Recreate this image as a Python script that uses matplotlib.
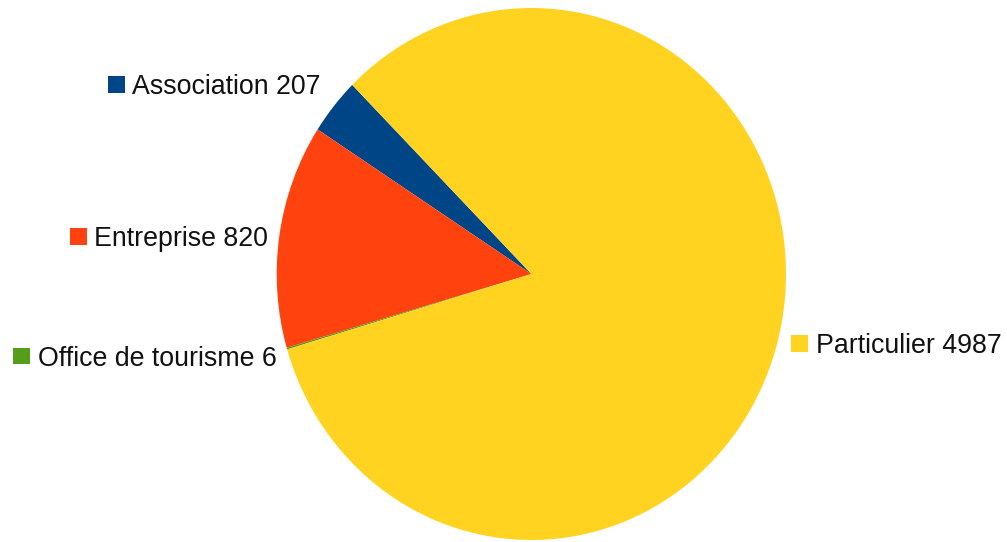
import matplotlib.pyplot as plt
from matplotlib.patches import Rectangle

# data
categories = ['Association', 'Entreprise', 'Office de tourisme', 'Particulier']
values = [207, 820, 6, 4987]
colors = ['#004586', '#ff420e', '#579d1c', '#ffd320']

# label placement (pixel coords: marker left edge, marker centre y)
label_pos = [(108, 84.5), (70, 236.5), (13, 356), (791, 343.5)]

W, H = 1007, 542
fig = plt.figure(figsize=(W / 100, H / 100), dpi=100)

# pie is slightly taller than wide in the reference
left, right, top, bottom = 276.7, 786.0, 8.0, 540.0
ax_pie = fig.add_axes([left / W, (H - bottom) / H, (right - left) / W, (bottom - top) / H])
ax_pie.pie(values, colors=colors, startangle=134.7, counterclock=True,
           radius=1, frame=True, wedgeprops=dict(linewidth=0))
ax_pie.set_aspect('auto')
ax_pie.set_xlim(-1, 1)
ax_pie.set_ylim(-1, 1)
ax_pie.axis('off')

# labels in pixel coords
ax = fig.add_axes([0, 0, 1, 1])
ax.set_xlim(0, W)
ax.set_ylim(0, H)
ax.axis('off')

sq = 16.5
for name, val, col, (x, y) in zip(categories, values, colors, label_pos):
    yy = H - y
    ax.add_patch(Rectangle((x, yy - sq / 2), sq, sq, facecolor=col, edgecolor='none'))
    ax.text(x + sq + 8, yy - 9.5, f'{name} {val}', fontsize=19.3,
            family='Liberation Sans', va='baseline', ha='left', color='#111111')

fig.savefig('out.png', dpi=100)
